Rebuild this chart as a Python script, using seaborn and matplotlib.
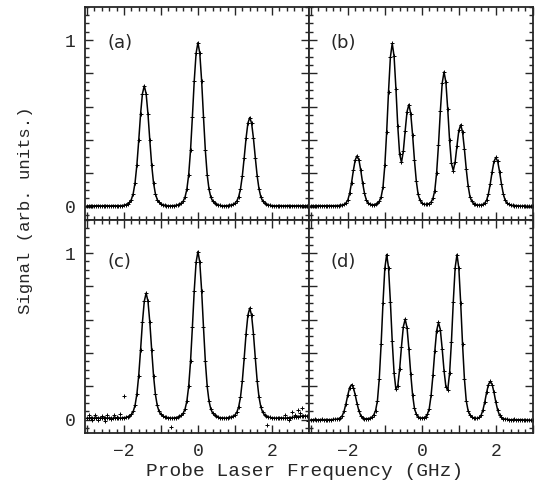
import numpy as np
import pandas as pd
import matplotlib
matplotlib.use("Agg")
import matplotlib.pyplot as plt
import seaborn as sns
from matplotlib.ticker import MultipleLocator, FixedLocator

# probe laser scan grid (GHz), 0.05 GHz steps
freq = np.round(np.arange(-3.0, 3.0001, 0.05), 2)

# (a) three-peak spectrum
sig_a = [0.005, 0.004, 0.006, 0.005, 0.004, 0.005, 0.006, 0.005, 0.004, 0.005,
         0.006, 0.005, 0.005, 0.004, 0.006, 0.005, 0.005, 0.004, 0.005,
         0.006, 0.008, 0.011, 0.017, 0.025, 0.042, 0.077, 0.142, 0.250, 0.397,
         0.556, 0.678, 0.725, 0.678, 0.556, 0.397, 0.250, 0.142, 0.077, 0.042,
         0.025, 0.017, 0.011, 0.008, 0.006,
         0.005, 0.004, 0.005, 0.006,
         0.007, 0.009, 0.014, 0.021, 0.032, 0.056, 0.103, 0.191, 0.338, 0.539,
         0.755, 0.921, 0.985, 0.921, 0.755, 0.539, 0.338, 0.191, 0.103, 0.056,
         0.032, 0.021, 0.014, 0.009, 0.007,
         0.005, 0.004, 0.005,
         0.006, 0.007, 0.010, 0.013, 0.020, 0.033, 0.058, 0.106, 0.185, 0.294,
         0.410, 0.501, 0.535, 0.501, 0.410, 0.294, 0.185, 0.106, 0.058, 0.033,
         0.020, 0.013, 0.010, 0.007, 0.006,
         0.005, 0.004, 0.005, 0.006, 0.005, 0.004, 0.005, 0.005, 0.006, 0.004,
         0.005, 0.005, 0.004, 0.006, 0.005, 0.005, 0.004, 0.005, 0.006, 0.005]

# (b) six-peak spectrum
sig_b = [0.005, 0.006, 0.004, 0.005, 0.005, 0.006, 0.004, 0.005, 0.005, 0.004,
         0.006, 0.005, 0.005, 0.005,
         0.006, 0.006, 0.007, 0.010, 0.013, 0.022, 0.039, 0.080, 0.142, 0.217,
         0.280, 0.305, 0.280, 0.217, 0.142, 0.080, 0.039, 0.022, 0.013,
         0.012, 0.011, 0.014, 0.020, 0.032, 0.058, 0.116, 0.247, 0.449, 0.691,
         0.897, 0.980, 0.903, 0.708, 0.482, 0.315, 0.265, 0.333, 0.456, 0.570,
         0.613, 0.559, 0.431, 0.280, 0.154, 0.073, 0.038, 0.022, 0.014, 0.013,
         0.014, 0.018, 0.027, 0.049, 0.096, 0.204, 0.371, 0.572, 0.741, 0.809,
         0.746, 0.584, 0.397, 0.259, 0.216, 0.269, 0.366, 0.457, 0.491, 0.448,
         0.346, 0.225, 0.125, 0.060, 0.031, 0.018, 0.013, 0.010, 0.009, 0.010,
         0.013, 0.021, 0.038, 0.077, 0.138, 0.210, 0.271, 0.295, 0.271, 0.210,
         0.138, 0.077, 0.038, 0.021, 0.013, 0.009, 0.007, 0.006, 0.006,
         0.005, 0.004, 0.003, 0.004, 0.003, 0.002, 0.003, 0.002, 0.003]

# (c) three-peak spectrum, noisier baseline
sig_c = [0.010, 0.009, 0.011, 0.010, 0.008, 0.010, 0.011, 0.009, 0.010, 0.010,
         0.011, 0.009, 0.010, 0.010, 0.008, 0.010, 0.011, 0.010, 0.009, 0.010,
         0.012, 0.013, 0.017, 0.022, 0.031, 0.049, 0.085, 0.153, 0.265, 0.419,
         0.584, 0.711, 0.760, 0.711, 0.584, 0.419, 0.265, 0.153, 0.085, 0.049,
         0.031, 0.022, 0.017, 0.013, 0.012,
         0.010, 0.009, 0.010,
         0.012, 0.014, 0.019, 0.026, 0.038, 0.062, 0.110, 0.200, 0.350, 0.555,
         0.775, 0.945, 1.010, 0.945, 0.775, 0.555, 0.350, 0.200, 0.110, 0.062,
         0.038, 0.026, 0.019, 0.014, 0.012,
         0.010, 0.010, 0.009,
         0.011, 0.013, 0.016, 0.021, 0.028, 0.044, 0.076, 0.135, 0.234, 0.370,
         0.515, 0.627, 0.670, 0.627, 0.515, 0.370, 0.234, 0.135, 0.076, 0.044,
         0.028, 0.021, 0.016, 0.013, 0.011,
         0.010, 0.009, 0.010, 0.011, 0.010, 0.010, 0.009, 0.010, 0.011, 0.012,
         0.013, 0.015, 0.016, 0.018, 0.020, 0.021, 0.022, 0.022, 0.021, 0.020]

# (d) six-peak spectrum
sig_d = [0.000, -0.001, 0.001, 0.000, -0.002, 0.000, 0.001, -0.001, 0.000, 0.000,
         -0.001,
         0.000, 0.001, 0.002, 0.003, 0.006, 0.012, 0.024, 0.052, 0.096, 0.148,
         0.193, 0.210, 0.193, 0.148, 0.096, 0.052, 0.024, 0.012, 0.006, 0.005,
         0.006, 0.009, 0.015, 0.028, 0.054, 0.113, 0.247, 0.453, 0.700, 0.909,
         0.992, 0.913, 0.709, 0.470, 0.280, 0.181, 0.203, 0.303, 0.439, 0.558,
         0.604, 0.552, 0.425, 0.275, 0.149, 0.068, 0.033, 0.018, 0.011, 0.010,
         0.011, 0.017, 0.032, 0.066, 0.145, 0.266, 0.410, 0.534, 0.584, 0.540,
         0.425, 0.294, 0.198, 0.179, 0.279, 0.469, 0.709, 0.913, 0.992, 0.909,
         0.700, 0.453, 0.247, 0.113, 0.054, 0.028, 0.016, 0.010, 0.008, 0.008,
         0.013, 0.026, 0.057, 0.105, 0.163, 0.211, 0.230, 0.211, 0.163, 0.105,
         0.057, 0.026, 0.013, 0.006, 0.003, 0.002,
         0.000, -0.001, 0.000, 0.001, -0.002, 0.000, -0.001, 0.000, -0.002, -0.001,
         -0.003, -0.002, -0.004, -0.003]

# stray data points in (c)
c_stray_freq = [-2.95, -2.85, -2.78, -2.70, -2.60, -2.52, -2.45, -2.35, -2.27, -2.18,
                -2.10, -2.00, -0.74, 1.86, 2.35, 2.45, 2.55, 2.62, 2.70, 2.75,
                2.82, 2.90, 2.97]
c_stray_sig = [0.025, -0.005, 0.030, 0.000, 0.022, -0.010, 0.028, 0.005, 0.030, 0.018,
               0.035, 0.140, -0.045, -0.035, 0.025, 0.000, 0.045, 0.030, 0.060, 0.040,
               0.070, 0.020, -0.010]

panel_names = ["(a)", "(b)", "(c)", "(d)"]

sns.set_style("ticks")
plt.rcParams["font.family"] = ["Liberation Mono", "DejaVu Sans"]
plt.rcParams["axes.linewidth"] = 1.3

fig, axes = plt.subplots(2, 2, sharex=True, sharey=True, figsize=(5.35, 4.87), dpi=100)
fig.subplots_adjust(left=0.159, right=0.996, top=0.986, bottom=0.111, wspace=0, hspace=0)

signals = [sig_a, sig_b, sig_c, sig_d]
for ax, name, sig in zip(axes.flat, panel_names, signals):
    df = pd.DataFrame({"freq": freq, "signal": sig})
    sns.lineplot(data=df, x="freq", y="signal", ax=ax, color="black", lw=1.1)
    sns.scatterplot(data=df, x="freq", y="signal", ax=ax, color="black",
                    marker="+", s=8, linewidth=0.7)
    if name == "(c)":
        sns.scatterplot(x=c_stray_freq, y=c_stray_sig, ax=ax, color="black",
                        marker="+", s=8, linewidth=0.7)
    ax.text(0.155, 0.83 if name in ("(a)", "(b)") else 0.80, name, transform=ax.transAxes,
            ha="center", va="center", fontsize=13, family="DejaVu Sans")
    ax.set_xlabel("")
    ax.set_ylabel("")
    ax.set_xlim(-3.05, 3.0)
    ax.set_ylim(-0.08, 1.2)
    ax.xaxis.set_major_locator(MultipleLocator(1))
    ax.xaxis.set_minor_locator(MultipleLocator(0.2))
    ax.yaxis.set_major_locator(MultipleLocator(0.2))
    ax.yaxis.set_minor_locator(MultipleLocator(0.05))
    ax.tick_params(which="both", direction="in", top=True, right=True, width=1.0)
    ax.tick_params(which="major", length=6, pad=7, labelsize=13)
    ax.tick_params(which="minor", length=3)

for ax in axes[1]:
    ax.xaxis.set_major_locator(FixedLocator([-3, -2, -1, 0, 1, 2, 3]))
    ax.set_xticklabels(["", "\u22122", "", "0", "", "2", ""])
for ax in axes[:, 0]:
    ax.yaxis.set_major_locator(FixedLocator([0, 0.2, 0.4, 0.6, 0.8, 1.0]))
    ax.set_yticklabels(["0", "", "", "", "", "1"])
for ax in axes[0]:
    ax.tick_params(labelbottom=False)
for ax in axes[:, 1]:
    ax.tick_params(labelleft=False)

fig.text(0.047, 0.569, "Signal (arb. units.)", rotation=90, ha="center", va="center", fontsize=12.5)
fig.text(0.570, 0.031, "Probe Laser Frequency (GHz)", ha="center", va="center", fontsize=14)

fig.savefig("out.png", dpi=100)
plt.close(fig)
